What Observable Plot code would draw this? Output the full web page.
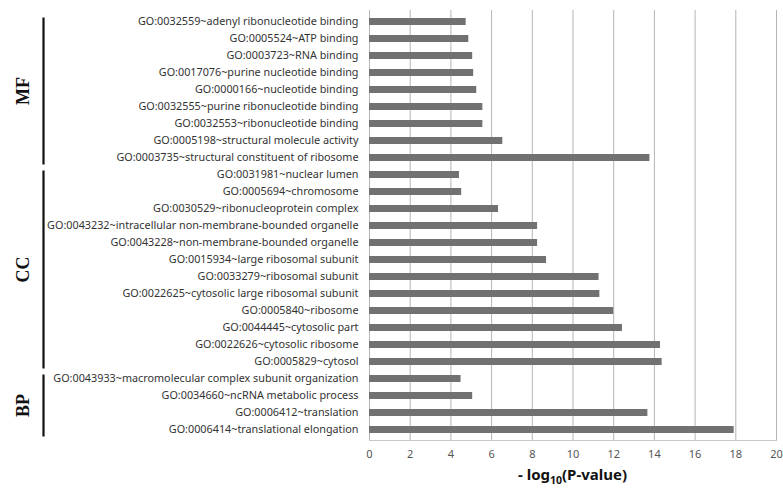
<!DOCTYPE html>
<html>
<head>
<meta charset="utf-8">
<script src="https://cdn.jsdelivr.net/npm/d3@7"></script>
<script src="https://cdn.jsdelivr.net/npm/@observablehq/plot@0.6"></script>
<style>
  body { margin: 0; background: #fff; }
  #chart svg { display: block; }
</style>
</head>
<body>
<div id="chart"></div>
<script>
const terms = [
  "GO:0032559~adenyl ribonucleotide binding",
  "GO:0005524~ATP binding",
  "GO:0003723~RNA binding",
  "GO:0017076~purine nucleotide binding",
  "GO:0000166~nucleotide binding",
  "GO:0032555~purine ribonucleotide binding",
  "GO:0032553~ribonucleotide binding",
  "GO:0005198~structural molecule activity",
  "GO:0003735~structural constituent of ribosome",
  "GO:0031981~nuclear lumen",
  "GO:0005694~chromosome",
  "GO:0030529~ribonucleoprotein complex",
  "GO:0043232~intracellular non-membrane-bounded organelle",
  "GO:0043228~non-membrane-bounded organelle",
  "GO:0015934~large ribosomal subunit",
  "GO:0033279~ribosomal subunit",
  "GO:0022625~cytosolic large ribosomal subunit",
  "GO:0005840~ribosome",
  "GO:0044445~cytosolic part",
  "GO:0022626~cytosolic ribosome",
  "GO:0005829~cytosol",
  "GO:0043933~macromolecular complex subunit organization",
  "GO:0034660~ncRNA metabolic process",
  "GO:0006412~translation",
  "GO:0006414~translational elongation"
];
const values = [
  4.75, 4.88, 5.07, 5.12, 5.27, 5.57, 5.57, 6.55, 13.78,
  4.42, 4.53, 6.34, 8.26, 8.26, 8.70, 11.28, 11.32, 12.0, 12.43, 14.3, 14.38,
  4.5, 5.07, 13.68, 17.92
];
const groupNames = ["MF", "CC", "BP"];
const groupFirst = ["GO:0032559~adenyl ribonucleotide binding", "GO:0031981~nuclear lumen", "GO:0043933~macromolecular complex subunit organization"];
const groupLast = ["GO:0003735~structural constituent of ribosome", "GO:0005829~cytosol", "GO:0006414~translational elongation"];
const xTicks = [0, 2, 4, 6, 8, 10, 12, 14, 16, 18, 20];

const data = terms.map((t, i) => ({term: t, value: values[i]}));
const font = "'Noto Sans', 'Open Sans', sans-serif";

const plot = Plot.plot({
  width: 783,
  height: 489,
  marginLeft: 369,
  marginRight: 7,
  marginTop: 10,
  marginBottom: 49,
  style: {fontFamily: font, background: "#fff"},
  x: {domain: [0, 20], label: null},
  y: {domain: terms, paddingInner: 0.6, paddingOuter: 0.35, label: null},
  marks: [
    Plot.gridX(xTicks, {stroke: "#b4b4b4", strokeOpacity: 1, strokeWidth: 1}),
    Plot.frame({anchor: "bottom", stroke: "#c8c8c8"}),
    Plot.barX(data, {x: "value", y: "term", fill: "#717171"}),
    Plot.axisX({ticks: xTicks, tickSize: 0, tickPadding: 10, fontSize: 11, fill: "#555", label: null}),
    Plot.axisY({tickSize: 0, tickPadding: 11, fontSize: 10.8, fill: "#333", label: null})
  ]
});

document.getElementById("chart").appendChild(plot);

const y = plot.scale("y");
const svg = d3.select(plot);
const center = (t) => y.apply(t) + y.bandwidth / 2;

groupNames.forEach((g, i) => {
  const y1 = center(groupFirst[i]) - 4;
  const y2 = center(groupLast[i]) + 7;
  svg.append("line")
    .attr("x1", 43.5).attr("x2", 43.5)
    .attr("y1", y1).attr("y2", y2)
    .attr("stroke", "#111").attr("stroke-width", 2.2);
  const cy = (y1 + y2) / 2;
  svg.append("text")
    .attr("transform", `translate(23,${cy}) rotate(-90)`)
    .attr("text-anchor", "middle")
    .attr("dy", "0.35em")
    .attr("font-family", "'Liberation Serif', 'DejaVu Serif', serif")
    .attr("font-weight", "bold")
    .attr("font-size", 18)
    .attr("fill", "#111")
    .text(g);
});

const title = svg.append("text")
  .attr("x", (369 + 776) / 2)
  .attr("y", 480)
  .attr("text-anchor", "middle")
  .attr("font-family", font)
  .attr("font-weight", "bold")
  .attr("font-size", 15)
  .attr("fill", "#111");
title.append("tspan").text("- log");
title.append("tspan").attr("font-size", 10.5).attr("dy", 3.5).text("10");
title.append("tspan").attr("dy", -3.5).text("(P-value)");
</script>
</body>
</html>
